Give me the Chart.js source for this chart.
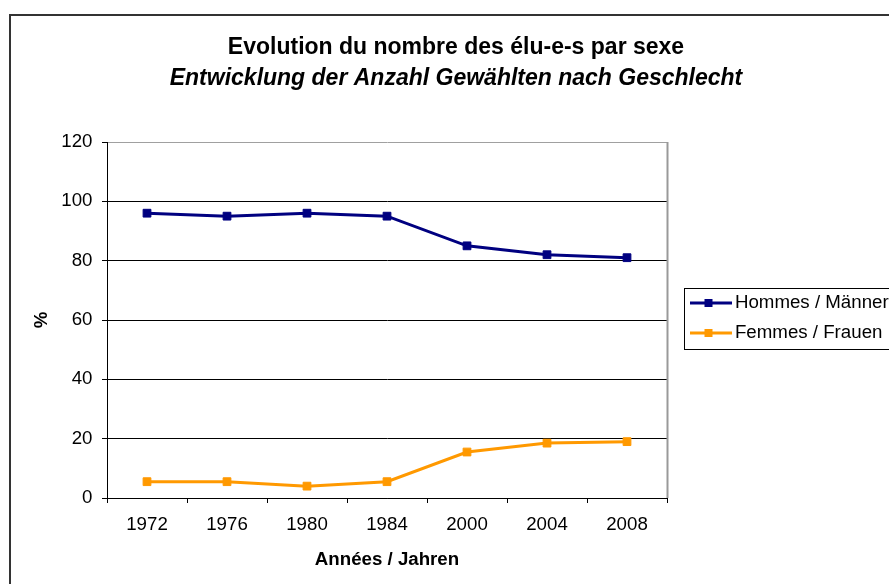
<!DOCTYPE html>
<html><head><meta charset="utf-8">
<script src="https://cdn.jsdelivr.net/npm/chart.js@4"></script>
<style>html,body{margin:0;padding:0;background:#fff;overflow:hidden;} canvas{display:block;}</style>
</head><body>
<canvas id="c" width="889" height="584"></canvas>
<script>
const categories = ['1972', '1976', '1980', '1984', '2000', '2004', '2008'];
const hommes = [96, 95, 96, 95, 85, 82, 81];
const femmes = [5.5, 5.5, 4, 5.5, 15.5, 18.5, 19];
const seriesNames = ['Hommes / Männer', 'Femmes / Frauen'];
const seriesColors = ['#000080', '#FF9900'];
const yMin = 0, yMax = 120, yStep = 20;
const titleText = 'Evolution du nombre des élu-e-s par sexe';
const subtitleText = 'Entwicklung der Anzahl Gewählten nach Geschlecht';
const xTitle = 'Années / Jahren';
const yTitle = '%';

const FONT = "'Liberation Sans', Arial, Helvetica, sans-serif";
Chart.defaults.font.family = FONT;
Chart.defaults.color = '#000';

function legendSample(color) {
  const c = document.createElement('canvas');
  c.width = 42; c.height = 10;
  const g = c.getContext('2d');
  g.strokeStyle = color; g.lineWidth = 3;
  g.beginPath(); g.moveTo(0, 5); g.lineTo(42, 5); g.stroke();
  g.fillStyle = color; g.fillRect(14.5, 1, 8, 8);
  return c;
}
const samples = seriesColors.map(legendSample);

const tweaks = {
  id: 'tweaks',
  afterLayout(chart) {
    chart.boxes.forEach(b => {
      if (b.options && typeof b.options.text === 'string' && b.options.position === 'top') {
        b.left = 23; b.right = 889; b.width = 866;
      }
    });
    const lg = chart.legend;
    if (lg) {
      lg.left = 685; lg.top = 282.3; lg.right = 1200; lg.bottom = 584;
      lg.width = lg.right - lg.left; lg.height = lg.bottom - lg.top;
    }
  },
  beforeDraw(chart) {
    const ctx = chart.ctx;
    ctx.save();
    ctx.strokeStyle = '#333'; ctx.lineWidth = 2;
    ctx.strokeRect(10, 15, 1000, 1000);
    ctx.restore();
  },
  beforeDatasetsDraw(chart) {
    const {ctx, chartArea: a} = chart;
    ctx.save();
    ctx.strokeStyle = '#999'; ctx.lineWidth = 2;
    ctx.beginPath(); ctx.moveTo(a.right + 0.5, a.top); ctx.lineTo(a.right + 0.5, a.bottom); ctx.stroke();
    ctx.restore();
  },
  afterDraw(chart) {
    const ctx = chart.ctx;
    ctx.save();
    ctx.strokeStyle = '#000'; ctx.lineWidth = 1;
    ctx.strokeRect(684.5, 288.5, 400, 61);
    ctx.restore();
  }
};

new Chart(document.getElementById('c'), {
  type: 'line',
  data: {
    labels: categories,
    datasets: [
      { label: seriesNames[0], data: hommes, borderColor: seriesColors[0], backgroundColor: seriesColors[0],
        borderWidth: 3, pointStyle: 'rect', pointRadius: 5.5, pointHoverRadius: 5.5, pointBorderWidth: 1,
        pointBackgroundColor: seriesColors[0], pointBorderColor: seriesColors[0], tension: 0, fill: false },
      { label: seriesNames[1], data: femmes, borderColor: seriesColors[1], backgroundColor: seriesColors[1],
        borderWidth: 3, pointStyle: 'rect', pointRadius: 5.5, pointHoverRadius: 5.5, pointBorderWidth: 1,
        pointBackgroundColor: seriesColors[1], pointBorderColor: seriesColors[1], tension: 0, fill: false }
    ]
  },
  options: {
    responsive: false,
    animation: false,
    devicePixelRatio: 1,
    layout: { padding: { top: 0, left: 10, right: 222, bottom: 13.12 } },
    plugins: {
      title: { display: true, text: titleText, color: '#000',
        font: { size: 23, weight: 'bold' }, padding: { top: 34, bottom: 0 } },
      subtitle: { display: true, text: subtitleText, color: '#000',
        font: { size: 23, weight: 'bold', style: 'italic' }, padding: { top: 3.1, bottom: 49.7 } },
      legend: {
        display: true, position: 'chartArea', align: 'start',
        labels: {
          usePointStyle: true, pointStyleWidth: 29.3, padding: 11.3, color: '#000',
          font: { size: 18.7 },
          generateLabels(chart) {
            const items = Chart.defaults.plugins.legend.labels.generateLabels(chart);
            items.forEach((it, i) => { it.pointStyle = samples[i]; });
            return items;
          }
        }
      },
      tooltip: { enabled: false }
    },
    scales: {
      x: {
        offset: true,
        grid: { display: true, offset: true, drawOnChartArea: false, drawTicks: true, tickLength: 5, color: '#000', lineWidth: 1 },
        border: { display: true, color: '#000', width: 1 },
        ticks: { font: { size: 18.7 }, padding: 10.5, color: '#000', maxRotation: 0, autoSkip: false },
        title: { display: true, text: xTitle, color: '#000', font: { size: 18.7, weight: 'bold' }, padding: { top: 2, bottom: 0 } }
      },
      y: {
        min: yMin, max: yMax,
        grid: { color: c => (c.tick && c.tick.value === yMax) ? '#a0a0a0' : '#000', tickColor: '#000', tickLength: 5, lineWidth: 1 },
        border: { display: true, color: '#000', width: 1 },
        ticks: { stepSize: yStep, font: { size: 18.7 }, padding: 9.5, color: '#000' },
        title: { display: true, text: yTitle, color: '#000', font: { size: 18.7, weight: 'bold' }, padding: { top: 20.8, bottom: 0 } },
        afterFit(scale) { scale.width = 97; }
      }
    }
  },
  plugins: [tweaks]
});
</script>
</body></html>
